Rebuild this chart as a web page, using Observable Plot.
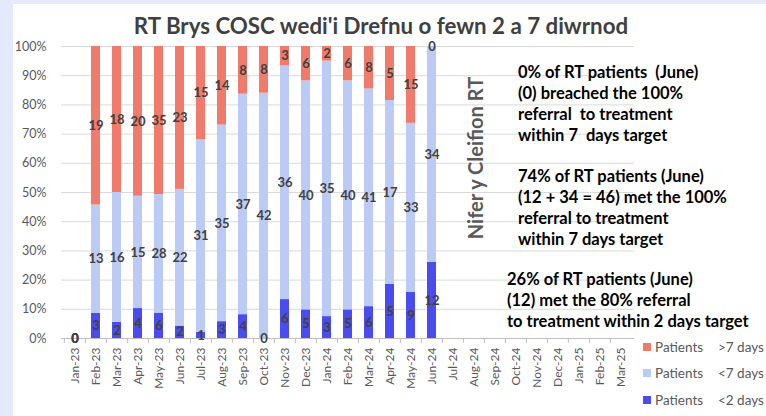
<!DOCTYPE html>
<html>
<head>
<meta charset="utf-8">
<script src="https://cdn.jsdelivr.net/npm/d3@7"></script>
<script src="https://cdn.jsdelivr.net/npm/@observablehq/plot@0.6"></script>
<style>
  html, body { margin: 0; padding: 0; }
  body { width: 766px; height: 416px; overflow: hidden; font-family: Lato, "Open Sans", sans-serif; }
  #frame { position: relative; width: 766px; height: 416px; background: #e4eafb; }
  #panel { position: absolute; left: 13px; top: 4px; right: 0; bottom: 0; background: #ffffff; }
  #chart { position: absolute; left: 0; top: 0; }
  .abs { position: absolute; white-space: pre; }
  #title { left: 0; width: 762px; top: 14px; text-align: center; font-size: 22.3px; font-weight: 700; color: #404040; line-height: 24px; }
  #ytitle { left: 475px; top: 158px; transform: translate(-50%, -50%) rotate(-90deg); font-size: 20px; font-weight: 700; color: #595959; }
  .note { font-size: 16.5px; font-weight: 700; color: #000; line-height: 21px; }
  .leg { font-size: 13.5px; color: #595959; line-height: 16px; }
  .sw { position: absolute; width: 8px; height: 8px; }
</style>
</head>
<body>
<div id="frame">
  <div id="panel"></div>
  <div id="chart"></div>
  <div id="title" class="abs"></div>
  <div id="ytitle" class="abs"></div>
  <div id="notes"></div>
  <div id="legend"></div>
</div>
<script>
const months = ["Jan-23","Feb-23","Mar-23","Apr-23","May-23","Jun-23","Jul-23","Aug-23","Sep-23","Oct-23","Nov-23","Dec-23",
  "Jan-24","Feb-24","Mar-24","Apr-24","May-24","Jun-24","Jul-24","Aug-24","Sep-24","Oct-24","Nov-24","Dec-24",
  "Jan-25","Feb-25","Mar-25"];
const dataMonths = months.slice(0, 18);
const under2 = [0,3,2,4,6,2,1,3,4,0,6,5,3,5,6,5,9,12];
const under7 = [0,13,16,15,28,22,31,35,37,42,36,40,35,40,41,17,33,34];
const over7  = [0,19,18,20,35,23,15,14,8,8,3,6,2,6,8,5,15,0];
const seriesNames = ["Patients      <2 days", "Patients      <7 days", "Patients      >7 days"];
const seriesColors = ["#4b4cf0", "#bccbf5", "#f07b6c"];
const yTicks = [0,0.1,0.2,0.3,0.4,0.5,0.6,0.7,0.8,0.9,1];
const titleText = "RT Brys COSC wedi'i Drefnu o fewn 2 a 7 diwrnod";
const yTitleText = "Nifer y Cleifion RT";
const notes = [
  ["0% of RT patients  (June)", "(0) breached the 100%", "referral  to treatment", "within 7  days target"],
  ["74% of RT patients (June)", "(12 + 34 = 46) met the 100%", "referral to treatment", "within 7 days target"],
  ["26% of RT patients (June)", "(12) met the 80% referral", "to treatment within 2 days target"]
];
const legendSeries = [["Patients", ">7 days"], ["Patients", "<7 days"], ["Patients", "<2 days"]];
const legendColors = ["#f07b6c", "#bccbf5", "#4b4cf0"];

// build normalized stacked rows
const rows = [];
dataMonths.forEach((m, i) => {
  const vals = [under2[i], under7[i], over7[i]];
  const total = vals[0] + vals[1] + vals[2];
  let acc = 0;
  vals.forEach((v, s) => {
    const y1 = total ? acc / total : 0;
    acc += v;
    const y2 = total ? acc / total : 0;
    rows.push({month: m, series: seriesNames[s], value: v, y1, y2, mid: (y1 + y2) / 2});
  });
});

const W = 766, H = 416, ML = 61, MR = 132, MT = 46, MB = 78;
const step = (W - ML - MR) / months.length;

const plot = Plot.plot({
  width: W, height: H,
  marginLeft: ML, marginRight: MR, marginTop: MT, marginBottom: MB,
  style: {background: "transparent", fontFamily: "Lato, 'Open Sans', sans-serif", color: "#595959"},
  x: {type: "band", domain: months, paddingInner: 0.55, paddingOuter: 0.275, label: null},
  y: {domain: [0, 1], label: null},
  color: {domain: seriesNames, range: seriesColors},
  marks: [
    Plot.gridY(yTicks, {stroke: "#d9d9d9", strokeOpacity: 1}),
    Plot.ruleY([0], {stroke: "#bfbfbf"}),
    Plot.axisY({ticks: yTicks, tickFormat: d3.format(".0%"), tickSize: 0, tickPadding: 15, fontSize: 12.5, fill: "#595959", label: null}),
    Plot.axisX({tickSize: 5, tickFormat: () => "", dx: -step / 2, stroke: "#bfbfbf", label: null}),
    Plot.axisX({tickSize: 0, tickRotate: -90, tickPadding: 9, fontSize: 12, fill: "#595959", label: null}),
    Plot.barY(rows, {x: "month", y1: "y1", y2: "y2", fill: "series"}),
    Plot.text(rows, {x: "month", y: "mid", text: d => String(d.value), fill: "#404040", fontWeight: "bold", fontSize: 13})
  ]
});
document.getElementById("chart").appendChild(plot);

document.getElementById("title").textContent = titleText;
document.getElementById("ytitle").textContent = yTitleText;

const notePos = [[518, 62], [518, 166], [507, 269]];
const notesEl = document.getElementById("notes");
notes.forEach((lines, i) => {
  const d = document.createElement("div");
  d.className = "abs note";
  d.style.left = notePos[i][0] + "px";
  d.style.top = notePos[i][1] + "px";
  d.textContent = lines.join("\n");
  notesEl.appendChild(d);
});

const legEl = document.getElementById("legend");
const legY = [347, 373, 400];
legendSeries.forEach((s, i) => {
  const sw = document.createElement("div");
  sw.className = "sw";
  sw.style.left = "643px";
  sw.style.top = (legY[i] - 4) + "px";
  sw.style.background = legendColors[i];
  legEl.appendChild(sw);
  const a = document.createElement("div");
  a.className = "abs leg";
  a.style.left = "655px";
  a.style.top = (legY[i] - 8) + "px";
  a.textContent = s[0];
  legEl.appendChild(a);
  const b = document.createElement("div");
  b.className = "abs leg";
  b.style.left = "718px";
  b.style.top = (legY[i] - 8) + "px";
  b.textContent = s[1];
  legEl.appendChild(b);
});
</script>
</body>
</html>
